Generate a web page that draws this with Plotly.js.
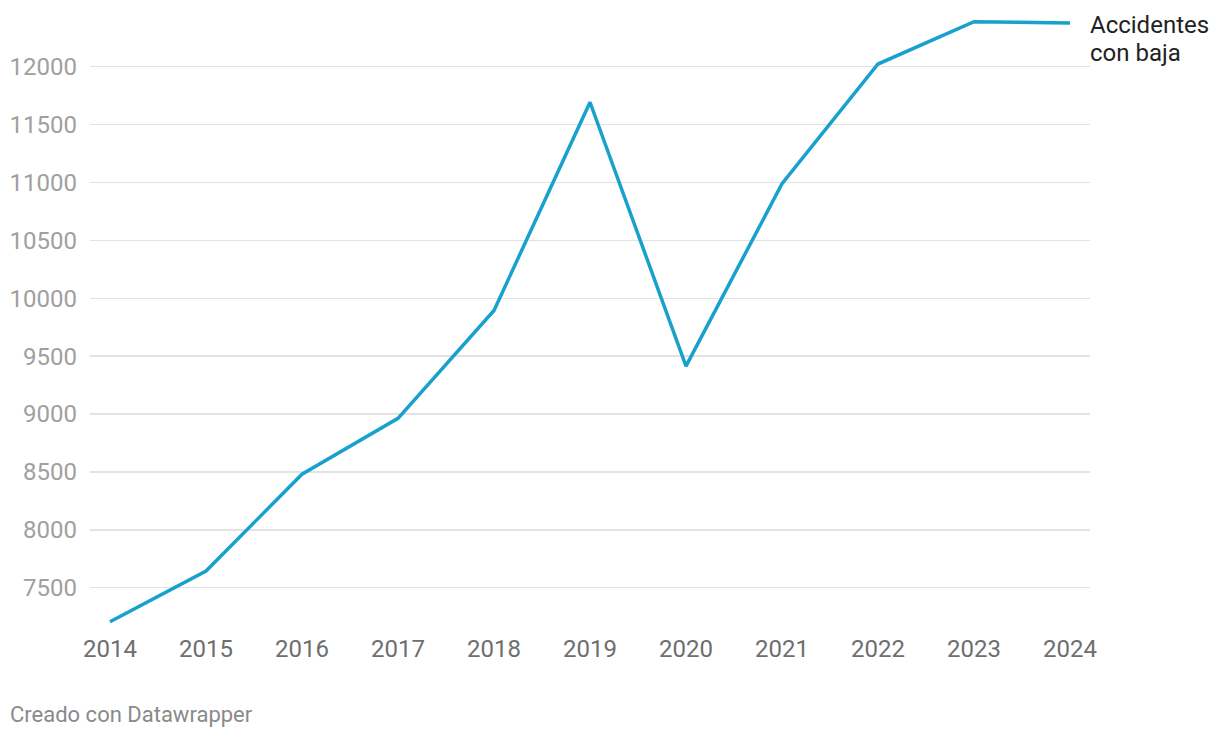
<!DOCTYPE html>
<html>
<head>
<meta charset="utf-8">
<script src="https://cdn.plot.ly/plotly-3.0.1.min.js"></script>
<style>
html,body{margin:0;padding:0;background:#fff;}
#chart{width:1220px;height:738px;}
</style>
</head>
<body>
<div id="chart"></div>
<script>
const years = [2014, 2015, 2016, 2017, 2018, 2019, 2020, 2021, 2022, 2023, 2024];
const accidentesConBaja = [7206, 7644, 8480, 8963, 9894, 11693, 9414, 10989, 12023, 12389, 12377];
const seriesLabelLines = ["Accidentes", "con baja"];
const yTicks = [7500, 8000, 8500, 9000, 9500, 10000, 10500, 11000, 11500, 12000];
const footer = "Creado con Datawrapper";

const trace = {
  x: years,
  y: accidentesConBaja,
  type: 'scatter',
  mode: 'lines',
  line: {color: '#18a1cd', width: 3.5},
  hoverinfo: 'x+y'
};

const labelAnnotations = seriesLabelLines.map((t, i) => ({
  text: t,
  xref: 'paper', yref: 'paper',
  x: 1, y: 1,
  xanchor: 'left', yanchor: 'middle',
  align: 'left',
  showarrow: false,
  xshift: -2, yshift: -10 - 28 * i,
  font: {family: 'Roboto, sans-serif', size: 24, color: '#222222'}
}));

const layout = {
  width: 1220,
  height: 738,
  margin: {l: 90, r: 130, t: 15, b: 108},
  paper_bgcolor: '#ffffff',
  plot_bgcolor: '#ffffff',
  showlegend: false,
  font: {family: 'Roboto, sans-serif'},
  xaxis: {
    range: [2013.7917, 2024.2083],
    tickmode: 'array',
    tickvals: years,
    ticktext: years.map(String),
    showgrid: false,
    zeroline: false,
    showline: false,
    ticks: '',
    ticklabelstandoff: 2,
    tickfont: {family: 'Roboto, sans-serif', size: 24, color: '#6e6e6e'}
  },
  yaxis: {
    range: [7134.7, 12446.5],
    tickmode: 'array',
    tickvals: yTicks,
    ticktext: yTicks.map(String),
    showgrid: true,
    gridcolor: '#e2e2e2',
    gridwidth: 1.5,
    zeroline: false,
    showline: false,
    ticks: '',
    ticklabelstandoff: 12,
    tickfont: {family: 'Roboto, sans-serif', size: 24, color: '#a0a0a0'}
  },
  annotations: labelAnnotations.concat([
    {
      text: footer,
      xref: 'paper', yref: 'paper',
      x: 0, y: 0,
      xanchor: 'left', yanchor: 'middle',
      xshift: -82, yshift: -84,
      showarrow: false,
      font: {family: 'Roboto, sans-serif', size: 22, color: '#8a8a8a'}
    }
  ])
};

Plotly.newPlot('chart', [trace], layout, {displayModeBar: false, staticPlot: true});
</script>
</body>
</html>
